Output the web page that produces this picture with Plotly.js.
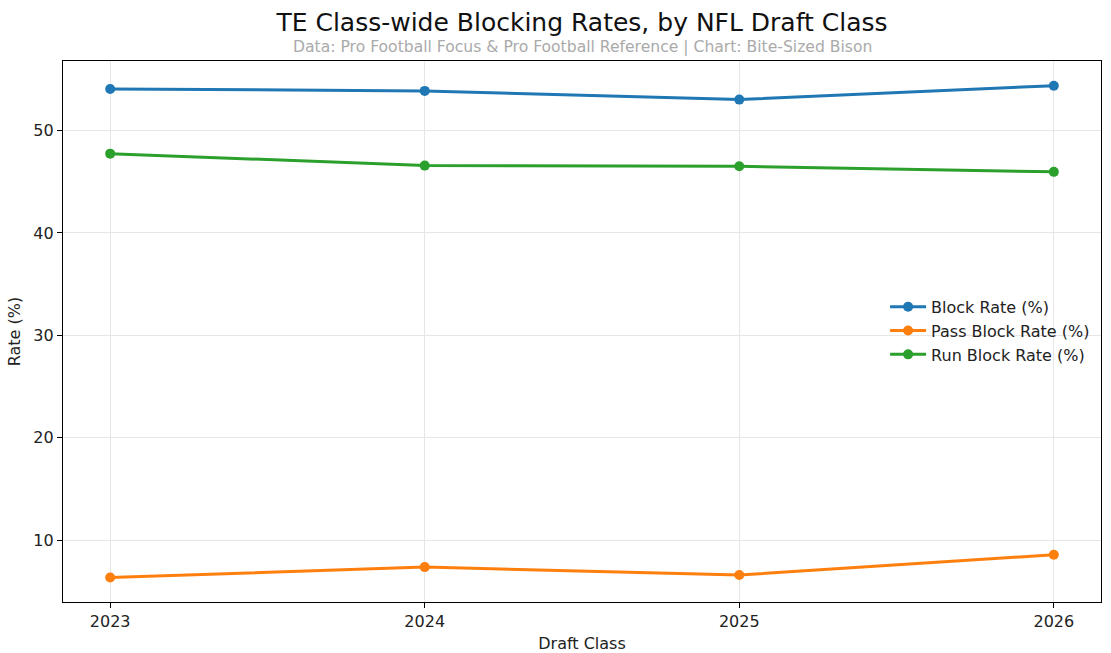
<!DOCTYPE html>
<html>
<head>
<meta charset="utf-8">
<script src="https://cdn.plot.ly/plotly-3.0.1.min.js"></script>
<style>html,body{margin:0;padding:0;background:#fff;}#chart{width:1111px;height:653px;}</style>
</head>
<body>
<div id="chart"></div>
<script>
const draftClasses = [2023, 2024, 2025, 2026];
const blockRate = [54.07, 53.88, 53.03, 54.39];
const passBlockRate = [6.35, 7.36, 6.58, 8.56];
const runBlockRate = [47.75, 46.58, 46.52, 45.97];
const seriesNames = ["Block Rate (%)", "Pass Block Rate (%)", "Run Block Rate (%)"];
const seriesColors = ["#1f77b4", "#ff7f0e", "#2ca02c"];
const titleText = "TE Class-wide Blocking Rates, by NFL Draft Class";
const subtitleText = "Data: Pro Football Focus &amp; Pro Football Reference | Chart: Bite-Sized Bison";

const font = "DejaVu Sans, sans-serif";
const values = [blockRate, passBlockRate, runBlockRate];
const traces = values.map((v, i) => ({
  x: draftClasses, y: v, name: seriesNames[i], type: "scatter", mode: "lines+markers",
  line: {color: seriesColors[i], width: 3},
  marker: {color: seriesColors[i], size: 10}
}));

const layout = {
  width: 1111, height: 653,
  margin: {l: 62.5, r: 10, t: 61, b: 50.7, pad: 0},
  paper_bgcolor: "#fff", plot_bgcolor: "#fff",
  font: {family: font, size: 16, color: "#222"},
  title: {text: titleText, x: 0.5, xref: "paper", xanchor: "center", y: 1 - 22/653, yref: "container", yanchor: "middle",
          font: {family: font, size: 25, color: "#111"}},
  annotations: [{text: subtitleText, xref: "paper", yref: "paper", x: 0.5, y: 1 + 14/541.3, xanchor: "center", yanchor: "middle",
                 showarrow: false, font: {family: font, size: 15.6, color: "#aaaaaa"}}],
  xaxis: {range: [2022.85, 2026.15], tickvals: draftClasses, ticktext: draftClasses.map(String),
          showgrid: true, gridcolor: "#e6e6e6", gridwidth: 1, zeroline: false,
          showline: true, linecolor: "#000", linewidth: 1.2, mirror: true,
          ticks: "outside", ticklen: 5, tickcolor: "#000", tickfont: {size: 16, color: "#222"},
          title: {text: "Draft Class", font: {size: 16, color: "#222"}, standoff: 8}},
  yaxis: {range: [3.95, 56.8], tickvals: [10, 20, 30, 40, 50],
          showgrid: true, gridcolor: "#e6e6e6", gridwidth: 1, zeroline: false,
          showline: true, linecolor: "#000", linewidth: 1.2, mirror: true,
          ticks: "outside", ticklen: 5, tickcolor: "#000", tickfont: {size: 16, color: "#222"},
          title: {text: "Rate (%)", font: {size: 16, color: "#222"}, standoff: 8}},
  legend: {x: (885 - 62.5)/1038.5, xanchor: "left", y: (602.3 - 331)/541.3, yanchor: "middle", itemwidth: 36,
           bgcolor: "rgba(255,255,255,0)", borderwidth: 0, font: {size: 16, color: "#222"}},
  showlegend: true
};
Plotly.newPlot("chart", traces, layout, {displayModeBar: false, staticPlot: true});
</script>
</body>
</html>
